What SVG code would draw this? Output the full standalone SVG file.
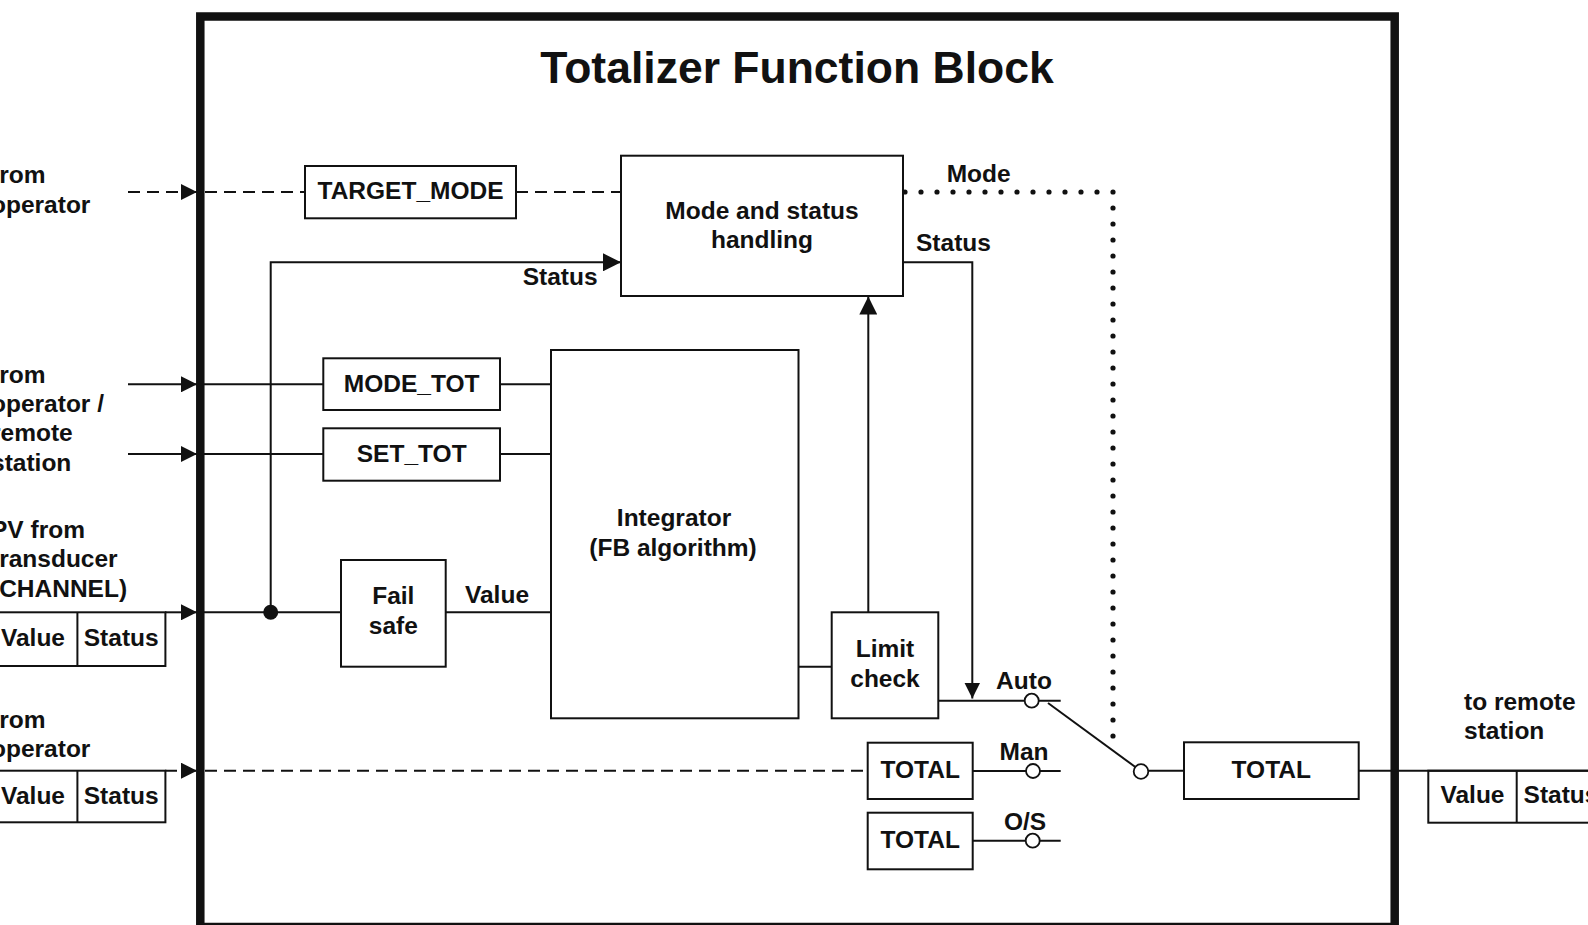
<svg xmlns="http://www.w3.org/2000/svg" width="1588" height="925" viewBox="0 0 1588 925">
<defs>
<style>
.t{font-family:"Liberation Sans",Arial,sans-serif;font-weight:bold;font-size:24.5px;fill:#111}
.m{text-anchor:middle}
.title{font-family:"Liberation Sans",Arial,sans-serif;font-weight:bold;font-size:44.5px;fill:#111;text-anchor:middle}
.box{fill:none;stroke:#111;stroke-width:2}
.ln{fill:none;stroke:#111;stroke-width:2}
.dash{fill:none;stroke:#111;stroke-width:2;stroke-dasharray:12 7}
.dot{fill:none;stroke:#111;stroke-width:5.2;stroke-linecap:round;stroke-dasharray:0 16}
.sw{fill:#fff;stroke:#111;stroke-width:1.8}
</style>
<marker id="arr" viewBox="0 0 16 16" refX="16" refY="8" markerWidth="16" markerHeight="16" markerUnits="userSpaceOnUse" orient="auto">
<path d="M0,0 L16,8 L0,16 z" fill="#111"/>
</marker>
<marker id="arrL" viewBox="0 0 18 18" refX="18" refY="9" markerWidth="18" markerHeight="18" markerUnits="userSpaceOnUse" orient="auto">
<path d="M0,0 L18,9 L0,18 z" fill="#111"/>
</marker>
</defs>
<rect width="1588" height="925" fill="#fff"/>

<g id="frame">
<rect x="200.3" y="16.5" width="1194.4" height="910.5" fill="none" stroke="#111" stroke-width="8.5"/>
<text class="title" x="797" y="83">Totalizer Function Block</text>
</g>

<g id="connectors">
<line class="dash" x1="128" y1="192" x2="197" y2="192" marker-end="url(#arr)"/>
<line class="dash" x1="205" y1="192" x2="305" y2="192"/>
<line class="dash" x1="516" y1="192" x2="621" y2="192"/>
<line class="ln" x1="128" y1="384.3" x2="197" y2="384.3" marker-end="url(#arr)"/>
<line class="ln" x1="204" y1="384.3" x2="323.3" y2="384.3"/>
<line class="ln" x1="500" y1="384.3" x2="551" y2="384.3"/>
<line class="ln" x1="128" y1="454" x2="197" y2="454" marker-end="url(#arr)"/>
<line class="ln" x1="204" y1="454" x2="323.3" y2="454"/>
<line class="ln" x1="500" y1="454" x2="551" y2="454"/>
<line class="ln" x1="165" y1="612.3" x2="197" y2="612.3" marker-end="url(#arr)"/>
<line class="ln" x1="204" y1="612.3" x2="341" y2="612.3"/>
<line class="ln" x1="445.7" y1="612.3" x2="551" y2="612.3"/>
<circle cx="270.7" cy="612.3" r="7.5" fill="#111"/>
<polyline class="ln" points="270.7,612.3 270.7,262.3 621,262.3" marker-end="url(#arrL)"/>
<line class="ln" x1="798" y1="666.7" x2="831.7" y2="666.7"/>
<line class="ln" x1="868.3" y1="612.3" x2="868.3" y2="296.5" marker-end="url(#arrL)"/>
<polyline class="ln" points="903,262.3 972.3,262.3 972.3,698.5" marker-end="url(#arr)"/>
<polyline class="dot" points="905,192 1113,192 1113,750"/>
<line class="dash" x1="165" y1="770.7" x2="197" y2="770.7" marker-end="url(#arr)"/>
<line class="dash" x1="205" y1="770.7" x2="867.7" y2="770.7"/>
<line class="ln" x1="938.3" y1="700.7" x2="1060.7" y2="700.7"/>
<line class="ln" x1="972.7" y1="771" x2="1060.7" y2="771"/>
<line class="ln" x1="972.7" y1="840.7" x2="1060.7" y2="840.7"/>
<line class="ln" x1="1048" y1="703" x2="1136" y2="767.5"/>
<circle class="sw" cx="1031.7" cy="700.7" r="7"/>
<circle class="sw" cx="1033" cy="771" r="7"/>
<circle class="sw" cx="1032.7" cy="840.7" r="7"/>
<line class="ln" x1="1141" y1="770.7" x2="1184" y2="770.7"/>
<circle class="sw" cx="1141" cy="771.5" r="7.3"/>
<line class="ln" x1="1358.7" y1="770.7" x2="1588" y2="770.7"/>
</g>

<g id="in-target-label">
<text class="t" x="-9" y="183.3">from</text>
<text class="t" x="-9" y="213.3">operator</text>
</g>
<g id="in-mode-label">
<text class="t" x="-9" y="383.3">from</text>
<text class="t" x="-9" y="412">operator /</text>
<text class="t" x="-9" y="441">remote</text>
<text class="t" x="-9" y="470.5">station</text>
</g>
<g id="in-pv-label">
<text class="t" x="-9" y="537.7">PV from</text>
<text class="t" x="-9" y="567.3">transducer</text>
<text class="t" x="-9" y="596.7">(CHANNEL)</text>
</g>
<g id="in-pv-box">
<rect class="box" x="-11" y="612.3" width="176.4" height="53.7"/>
<line class="ln" x1="77.4" y1="612.3" x2="77.4" y2="666"/>
<text class="t m" x="33" y="645.7">Value</text>
<text class="t m" x="121.2" y="645.7">Status</text>
</g>
<g id="in-total-label">
<text class="t" x="-9" y="728.3">from</text>
<text class="t" x="-9" y="757.3">operator</text>
</g>
<g id="in-total-box">
<rect class="box" x="-11" y="770.7" width="176.4" height="51.6"/>
<line class="ln" x1="77.4" y1="770.7" x2="77.4" y2="822.3"/>
<text class="t m" x="33" y="804">Value</text>
<text class="t m" x="121.2" y="804">Status</text>
</g>

<g id="target-mode">
<rect class="box" x="305" y="166" width="211" height="52.3"/>
<text class="t m" x="410.5" y="199.3">TARGET_MODE</text>
</g>
<g id="mode-status">
<rect class="box" x="621" y="155.7" width="282" height="140.3"/>
<text class="t m" x="762" y="219">Mode and status</text>
<text class="t m" x="762" y="248.3">handling</text>
</g>
<g id="mode-label"><text class="t" x="946.7" y="181.7">Mode</text></g>
<g id="status-label-1"><text class="t" x="522.7" y="285">Status</text></g>
<g id="status-label-2"><text class="t" x="916" y="251">Status</text></g>

<g id="mode-tot">
<rect class="box" x="323.3" y="358.3" width="176.7" height="51.7"/>
<text class="t m" x="411.7" y="391.7">MODE_TOT</text>
</g>
<g id="set-tot">
<rect class="box" x="323.3" y="428.3" width="176.7" height="52.4"/>
<text class="t m" x="411.7" y="461.7">SET_TOT</text>
</g>
<g id="fail-safe">
<rect class="box" x="341" y="560" width="104.7" height="106.7"/>
<text class="t m" x="393.3" y="604">Fail</text>
<text class="t m" x="393.3" y="634">safe</text>
</g>
<g id="value-label"><text class="t" x="465" y="602.7">Value</text></g>
<g id="integrator">
<rect class="box" x="551" y="350" width="247.5" height="368.3"/>
<text class="t m" x="674" y="525.6">Integrator</text>
<text class="t m" x="673" y="556">(FB algorithm)</text>
</g>
<g id="limit-check">
<rect class="box" x="831.7" y="612.3" width="106.6" height="106"/>
<text class="t m" x="885" y="657.3">Limit</text>
<text class="t m" x="885" y="687.3">check</text>
</g>
<g id="total-man">
<rect class="box" x="867.7" y="742.7" width="105" height="56.3"/>
<text class="t m" x="920.2" y="778.3">TOTAL</text>
</g>
<g id="total-os">
<rect class="box" x="867.7" y="812.7" width="105" height="56.6"/>
<text class="t m" x="920.2" y="848.3">TOTAL</text>
</g>
<g id="switch-labels">
<text class="t m" x="1024" y="689.3">Auto</text>
<text class="t m" x="1024" y="760">Man</text>
<text class="t m" x="1025" y="830">O/S</text>
</g>
<g id="total-out">
<rect class="box" x="1184" y="742.3" width="174.7" height="56.7"/>
<text class="t m" x="1271.3" y="777.7">TOTAL</text>
</g>
<g id="out-label">
<text class="t" x="1464" y="709.5">to remote</text>
<text class="t" x="1464" y="739.3">station</text>
</g>
<g id="out-box">
<rect class="box" x="1428.3" y="770.7" width="190" height="52"/>
<line class="ln" x1="1516.7" y1="770.7" x2="1516.7" y2="822.7"/>
<text class="t m" x="1472.5" y="803.3">Value</text>
<text class="t m" x="1561" y="803.3">Status</text>
</g>
</svg>
